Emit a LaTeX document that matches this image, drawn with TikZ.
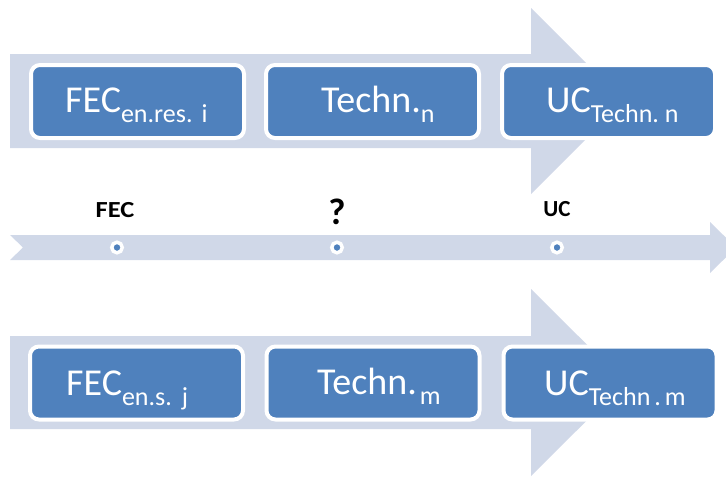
\documentclass[tikz,border=0pt]{standalone}
\usepackage{fontspec}
\setmainfont{Carlito}
\definecolor{boxblue}{RGB}{79,129,189}
\definecolor{arrowlight}{RGB}{208,216,232}
\newcommand{\subtxt}[1]{\raisebox{-10pt}{\fontsize{26}{26}\selectfont #1}}
\begin{document}
\begin{tikzpicture}[x=1pt,y=-1pt,
  arrowshape/.style={fill=arrowlight, draw=none},
  stepbox/.style={fill=boxblue, draw=white, line width=4pt, rounded corners=9pt,
    minimum width=213pt, minimum height=73pt, inner sep=0pt},
  boxtext/.style={text=white, font=\fontsize{38}{38}\selectfont, anchor=base west, inner sep=0pt},
  marklabel/.style={font=\bfseries\fontsize{23}{23}\selectfont, inner sep=0pt, anchor=base},
  dotmark/.style={circle, fill=boxblue, draw=white, line width=3.5pt, minimum size=10.5pt, inner sep=0pt},
  ]
\useasboundingbox (0,0) rectangle (726,477);

% top arrow
\fill[arrowshape] (10,54) -- (531,54) -- (531,8) -- (624,101) -- (531,194) -- (531,148) -- (10,148) -- cycle;
% bottom arrow
\fill[arrowshape] (10,336) -- (531,336) -- (531,289) -- (625,382.5) -- (531,476) -- (531,429) -- (10,429) -- cycle;
% middle arrow
\fill[arrowshape] (10,235) -- (710,235) -- (710,222) -- (736,247.5) -- (710,273) -- (710,260) -- (10,260) -- (23,247.5) -- cycle;

% top boxes
\node[stepbox] (t1) at (137.5,101.5) {};
\node[stepbox] (t2) at (372.5,101.5) {};
\node[stepbox] (t3) at (608.5,101.5) {};
\node[boxtext] (t1x) at (65,112) {FEC\subtxt{en.res.\hspace{9pt}i}};
\node[boxtext] (t2x) at (321,112) {Techn.\subtxt{n}};
\node[boxtext] (t3x) at (546,112) {UC\subtxt{Techn.\hspace{6pt}n}};

% bottom boxes
\node[stepbox] (b1) at (136.5,383) {};
\node[stepbox] (b2) at (373,383) {};
\node[stepbox] (b3) at (610,383) {};
\node[boxtext] (b1x) at (66,395) {FEC\subtxt{en.s.\hspace{10pt}j}};
\node[boxtext] (b2x) at (317,394) {Techn.\subtxt{\hspace{3pt}m}};
\node[boxtext] (b3x) at (544,395) {UC\subtxt{Techn\hspace{4pt}.\hspace{4pt}m}};

% middle timeline
\node[dotmark] (d1) at (117,247.5) {};
\node[dotmark] (d2) at (337,247.5) {};
\node[dotmark] (d3) at (557,247.5) {};
\node[marklabel] (l1) at (115,217) {\scalebox{1.15}[1]{FEC}};
\node[marklabel, font=\bfseries\fontsize{37}{37}\selectfont] (l2) at (337,224) {?};
\node[marklabel] (l3) at (557,216) {UC};
\end{tikzpicture}
\end{document}
